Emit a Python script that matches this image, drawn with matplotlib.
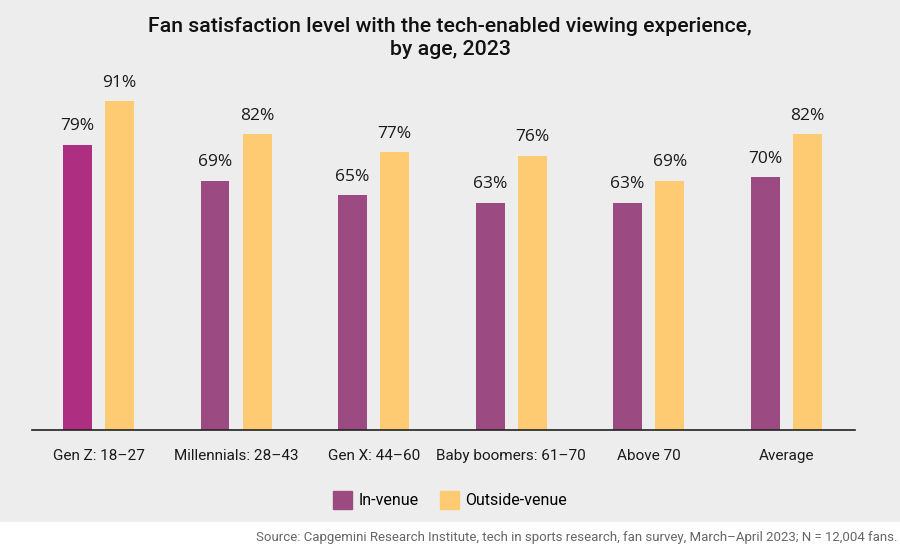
import numpy as np
import matplotlib
matplotlib.use("Agg")
from matplotlib import pyplot as plt
from matplotlib.patches import Patch

categories = ["Gen Z: 18\u201327", "Millennials: 28\u201343", "Gen X: 44\u201360",
              "Baby boomers: 61\u201370", "Above 70", "Average"]
in_venue = [79, 69, 65, 63, 63, 70]
outside_venue = [91, 82, 77, 76, 69, 82]

BG = "#ededed"
MAGENTA = "#ae2f82"
PURPLE = "#9c4a82"
YELLOW = "#fecb72"

plt.rcParams["font.family"] = ["Roboto", "DejaVu Sans"]

fig = plt.figure(figsize=(9, 5.52), dpi=100)
fig.patch.set_facecolor(BG)
# white strip under the grey panel for the source line
fig.patches.append(plt.Rectangle((0, 0), 1, 30 / 552, transform=fig.transFigure,
                                 color="white", zorder=-10))

# axes: x 32..855 px, y baseline 430, 100% at 69
ax = fig.add_axes([32 / 900, (552 - 430) / 552, (855 - 32) / 900, 361 / 552])
ax.set_facecolor(BG)

x = np.arange(len(categories))
w = 0.21
off = 0.153
in_colors = [MAGENTA] + [PURPLE] * (len(categories) - 1)
b1 = ax.bar(x - off, in_venue, w, color=in_colors)
b2 = ax.bar(x + off, outside_venue, w, color=YELLOW)

for bars, vals in ((b1, in_venue), (b2, outside_venue)):
    for b, v in zip(bars, vals):
        ax.text(b.get_x() + b.get_width() / 2, v + 2.9, f"{v}%",
                ha="center", va="bottom", fontsize=12.5, color="#1a1a1a",
                family=["Open Sans", "DejaVu Sans"])

ax.set_xlim(-0.484, 5.5)
ax.set_ylim(0, 100)
ax.set_yticks([])
ax.set_xticks(x)
ax.set_xticklabels(categories, fontsize=11, color="#1a1a1a")
ax.tick_params(axis="x", length=0, pad=14)
for s in ("top", "right", "left"):
    ax.spines[s].set_visible(False)
ax.spines["bottom"].set_color("#222222")
ax.spines["bottom"].set_linewidth(1.2)

fig.text(0.5, 1 - 38 / 552, "Fan satisfaction level with the tech-enabled viewing experience,\nby age, 2023",
         ha="center", va="center", fontsize=15.3, fontweight="medium", color="#111111",
         linespacing=1.25)

handles = [Patch(color=PURPLE, label="In-venue"), Patch(color=YELLOW, label="Outside-venue")]
fig.legend(handles=handles, loc="center", bbox_to_anchor=(0.5, 1 - 500 / 552), ncol=2,
           frameon=False, fontsize=11.5, handlelength=1.2, handleheight=1.3,
           handletextpad=0.4, columnspacing=1.3)

fig.text(897 / 900, 1 - 538 / 552,
         "Source: Capgemini Research Institute, tech in sports research, fan survey, March\u2013April 2023; N = 12,004 fans.",
         ha="right", va="center", fontsize=9.5, color="#666666")

fig.savefig("out.png", dpi=100, facecolor=fig.get_facecolor())
